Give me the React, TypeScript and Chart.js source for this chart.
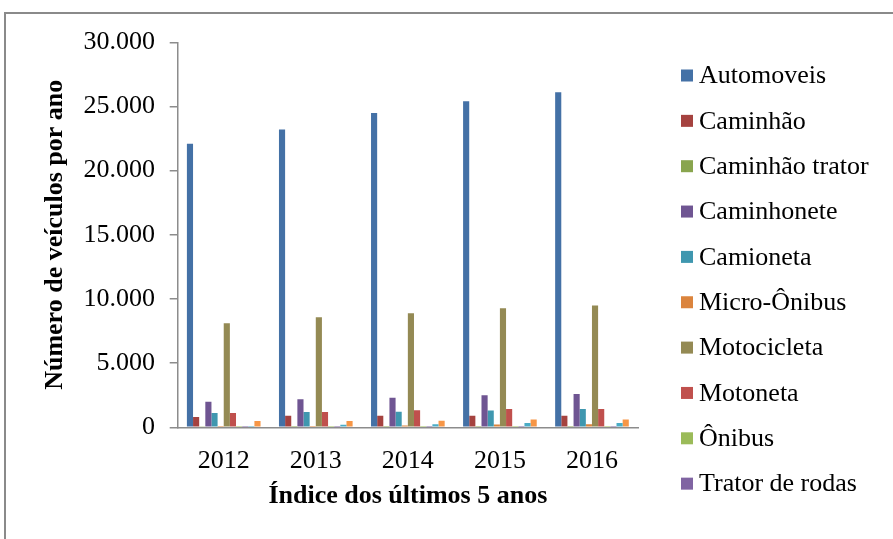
import React, { useEffect, useRef } from 'react';
import { Chart, registerables } from 'chart.js';

Chart.register(...registerables);

// ---- Data ----
const YEARS = ['2012', '2013', '2014', '2015', '2016'];

const AUTOMOVEIS = [22100, 23200, 24500, 25400, 26100];
const CAMINHAO = [800, 900, 900, 900, 900];
const CAMINHAO_TRATOR = [90, 100, 100, 110, 110];
const CAMINHONETE = [2000, 2180, 2310, 2500, 2600];
const CAMIONETA = [1110, 1190, 1220, 1300, 1420];
const MICRO_ONIBUS = [100, 110, 150, 220, 230];
const MOTOCICLETA = [8100, 8570, 8880, 9270, 9500];
const MOTONETA = [1110, 1190, 1320, 1420, 1420];
const ONIBUS = [20, 20, 20, 25, 25];
const TRATOR_DE_RODAS = [5, 5, 5, 5, 5];
const UTILITARIO = [100, 200, 230, 340, 340];
const REBOQUE = [490, 490, 520, 600, 600];

const SERIES_NAMES = [
  'Automoveis',
  'Caminhão',
  'Caminhão trator',
  'Caminhonete',
  'Camioneta',
  'Micro-Ônibus',
  'Motocicleta',
  'Motoneta',
  'Ônibus',
  'Trator de rodas',
  'Utilitário',
  'Reboque',
];
const SERIES_VALUES = [
  AUTOMOVEIS,
  CAMINHAO,
  CAMINHAO_TRATOR,
  CAMINHONETE,
  CAMIONETA,
  MICRO_ONIBUS,
  MOTOCICLETA,
  MOTONETA,
  ONIBUS,
  TRATOR_DE_RODAS,
  UTILITARIO,
  REBOQUE,
];
const SERIES_COLORS = [
  '#4471A6',
  '#A5423F',
  '#89A54E',
  '#6F5592',
  '#3F97AF',
  '#DB843D',
  '#948A54',
  '#C0504D',
  '#9BBB59',
  '#8064A2',
  '#4BACC6',
  '#F79646',
];
// the legend in the reference is cut off after this many entries
const LEGEND_VISIBLE = 10;

const Y_MIN = 0;
const Y_MAX = 30000;
const Y_STEP = 5000;

const X_TITLE = 'Índice dos últimos 5 anos';
const Y_TITLE = 'Número de veículos por ano';

const FONT = "'Liberation Serif', 'Times New Roman', serif";
const AXIS_GRAY = '#8c8c8c';

function formatThousands(v: number | string): string {
  return String(v).replace(/\B(?=(\d{3})+(?!\d))/g, '.');
}

const sideLegend = {
  id: 'sideLegend',
  afterDraw(chart: any) {
    const ctx = chart.ctx;
    const area = chart.chartArea;
    const boxX = area.right + 43;
    const textX = boxX + 18;
    ctx.save();
    ctx.font = `26px ${FONT}`;
    ctx.textAlign = 'left';
    ctx.textBaseline = 'alphabetic';
    chart.data.datasets.slice(0, LEGEND_VISIBLE).forEach((ds: any, i: number) => {
      const baseY = 83.3 + i * 45.35;
      ctx.fillStyle = ds.backgroundColor;
      ctx.fillRect(boxX, baseY - 13.8, 12, 12);
      ctx.fillStyle = '#000';
      ctx.fillText(ds.label, textX, baseY);
    });
    ctx.restore();
  },
};

export default function App() {
  const canvasRef = useRef<HTMLCanvasElement | null>(null);

  useEffect(() => {
    if (!canvasRef.current) return;
    const chart = new Chart(canvasRef.current, {
      type: 'bar',
      data: {
        labels: YEARS,
        datasets: SERIES_NAMES.map((name, i) => ({
          label: name,
          data: SERIES_VALUES[i],
          backgroundColor: SERIES_COLORS[i],
          borderWidth: 0,
          categoryPercentage: 0.8,
          barPercentage: 1,
        })),
      },
      options: {
        animation: false,
        responsive: true,
        maintainAspectRatio: false,
        layout: { padding: { left: 40.1, top: 42.3, right: 255, bottom: 27.2 } },
        plugins: {
          legend: { display: false },
          tooltip: { enabled: false },
        },
        scales: {
          x: {
            grid: { display: false, drawTicks: false },
            border: { display: true, color: AXIS_GRAY, width: 1.5 },
            ticks: {
              font: { family: FONT, size: 26 },
              color: '#000',
              padding: 17.8,
              maxRotation: 0,
            },
            title: {
              display: true,
              text: X_TITLE,
              color: '#000',
              font: { family: FONT, size: 26, weight: 'bold' },
              padding: { top: -13.5, bottom: 0 },
            },
          },
          y: {
            min: Y_MIN,
            max: Y_MAX,
            ticks: {
              stepSize: Y_STEP,
              callback: (v: any) => formatThousands(v),
              font: { family: FONT, size: 26 },
              color: '#000',
              padding: 14.7,
            },
            grid: {
              display: true,
              drawOnChartArea: false,
              drawTicks: true,
              tickLength: 8,
              color: AXIS_GRAY,
              lineWidth: 1.5,
            },
            border: { display: true, color: AXIS_GRAY, width: 1.5 },
            title: {
              display: true,
              text: Y_TITLE,
              color: '#000',
              font: { family: FONT, size: 26, weight: 'bold' },
              padding: { top: 0, bottom: -2.5 },
            },
          },
        },
      },
      plugins: [sideLegend],
    });
    return () => chart.destroy();
  }, []);

  return (
    <div
      style={{
        position: 'fixed',
        left: 0,
        top: 0,
        width: 893,
        height: 539,
        overflow: 'hidden',
        background: '#fff',
      }}
    >
      <canvas ref={canvasRef} style={{ position: 'absolute', left: 0, top: 0 }} />
      <div
        style={{
          position: 'absolute',
          left: 4,
          top: 12,
          width: 960,
          height: 600,
          border: '2px solid #8a8a8a',
          pointerEvents: 'none',
        }}
      />
    </div>
  );
}
